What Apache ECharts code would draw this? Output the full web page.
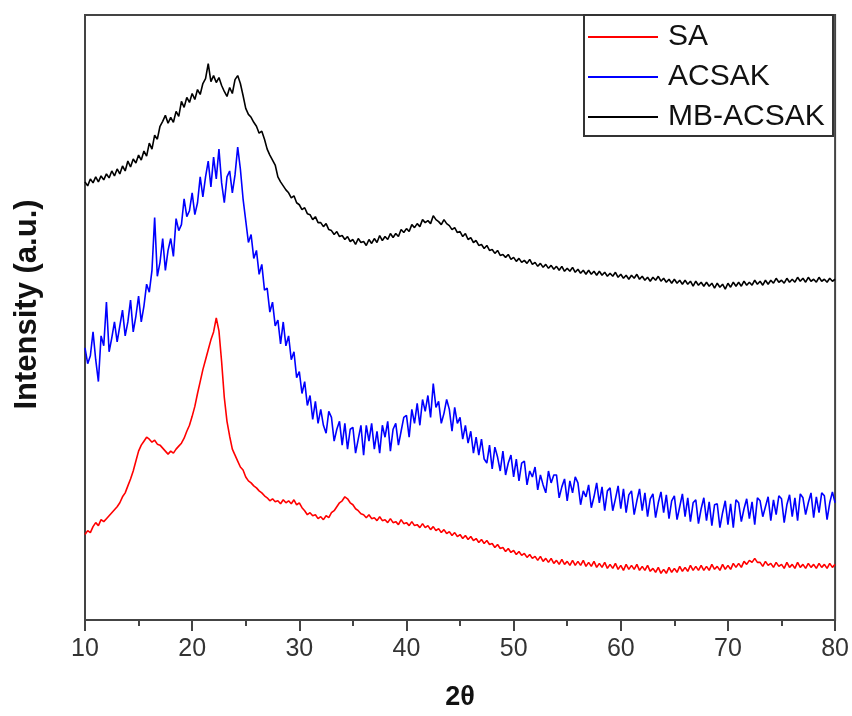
<!DOCTYPE html>
<html>
<head>
<meta charset="utf-8">
<script src="https://cdn.jsdelivr.net/npm/echarts@6/dist/echarts.min.js"></script>
<style>
  html, body { margin: 0; padding: 0; background: #fff; }
  #chart { width: 852px; height: 716px; }
</style>
</head>
<body>
<div id="chart"></div>
<script>
// scan grid: 10..80 deg 2theta, 0.25 deg step
const angleStart = 10;
const angleStep = 0.25;
const xTicks = [10, 20, 30, 40, 50, 60, 70, 80];
const seriesNames = ["SA", "ACSAK", "MB-ACSAK"];

// intensities (arbitrary units, stacked offsets as in the figure)
const saValues = [
  86, 90, 88, 94, 98, 95, 101, 99, 102, 105, 108, 111, 114, 118, 124, 128,
  135, 142, 150, 160, 170, 176, 180, 184, 182, 179, 181, 177, 176, 173, 170, 167,
  170, 168, 172, 175, 178, 183, 190, 196, 205, 215, 228, 240, 252, 262, 272, 282,
  290, 304, 291, 260, 224, 200, 185, 172, 166, 160, 154, 151, 144, 140, 138, 135,
  133, 130, 128, 125, 123, 120, 122, 119, 120, 117, 121, 118, 120, 117, 121, 116,
  118, 113, 110, 106, 108, 105, 106, 102, 104, 101, 105, 103, 108, 110, 114, 118,
  120, 124, 122, 118, 116, 112, 110, 107, 106, 103, 106, 102, 103, 100, 104, 100,
  101, 98, 102, 98, 99, 96, 101, 97, 98, 95, 99, 95, 96, 93, 97, 93,
  95, 91, 94, 90, 92, 88, 91, 87, 89, 85, 88, 84, 86, 82, 85, 81,
  84, 80, 82, 78, 81, 77, 80, 76, 77, 73, 76, 72, 73, 69, 72, 68,
  70, 66, 69, 65, 67, 63, 66, 62, 64, 60, 64, 59, 62, 58, 62, 57,
  60, 56, 61, 56, 59, 55, 60, 55, 59, 55, 60, 54, 58, 54, 59, 53,
  57, 53, 58, 52, 56, 52, 57, 51, 55, 50, 56, 51, 55, 51, 56, 50,
  54, 50, 55, 49, 52, 48, 53, 47, 51, 47, 53, 48, 52, 48, 54, 49,
  53, 49, 55, 50, 54, 50, 55, 50, 54, 50, 56, 51, 54, 50, 56, 51,
  55, 51, 57, 53, 57, 53, 59, 56, 60, 58, 62, 58, 58, 54, 59, 55,
  57, 53, 58, 54, 56, 52, 58, 53, 56, 52, 58, 53, 56, 52, 57, 53,
  56, 52, 57, 53, 56, 52, 57, 53, 56
];

const acsakValues = [
  274, 258, 266, 290, 262, 240, 286, 276, 320, 270, 284, 300, 280, 296, 312, 286,
  300, 322, 290, 306, 326, 300, 316, 338, 330, 352, 405, 346, 360, 384, 352, 372,
  384, 366, 404, 392, 398, 424, 406, 412, 430, 408, 420, 446, 426, 446, 462, 436,
  466, 444, 474, 440, 420, 446, 452, 430, 448, 476, 454, 424, 402, 380, 388, 364,
  372, 348, 358, 332, 334, 310, 320, 296, 302, 278, 300, 276, 286, 262, 270, 244,
  250, 228, 240, 216, 226, 202, 220, 198, 212, 196, 188, 210, 204, 180, 192, 200,
  176, 198, 172, 192, 194, 168, 182, 196, 166, 196, 180, 198, 172, 190, 168, 196,
  184, 200, 170, 192, 198, 176, 190, 204, 206, 184, 212, 198, 218, 196, 222, 210,
  226, 204, 238, 214, 220, 198, 208, 222, 212, 190, 214, 198, 204, 182, 196, 178,
  190, 168, 184, 166, 182, 162, 158, 176, 152, 174, 164, 150, 170, 146, 158, 166,
  144, 162, 140, 158, 160, 136, 150, 144, 154, 131, 146, 136, 128, 150, 138, 146,
  146, 123, 134, 142, 120, 140, 128, 144, 138, 116, 130, 124, 136, 113, 124, 138,
  118, 134, 110, 130, 133, 110, 122, 135, 112, 132, 108, 126, 130, 106, 120, 132,
  110, 128, 104, 122, 127, 103, 118, 129, 108, 126, 102, 120, 125, 101, 114, 127,
  104, 123, 99, 118, 121, 97, 112, 123, 100, 119, 95, 116, 117, 93, 108, 120,
  96, 117, 93, 121, 118, 99, 112, 122, 102, 119, 96, 123, 120, 104, 114, 124,
  100, 121, 106, 125, 122, 98, 116, 126, 104, 123, 100, 127, 123, 106, 118, 128,
  103, 124, 108, 128, 125, 101, 118, 129, 118
];

const mbAcsakValues = [
  441, 437, 444, 440, 446, 441, 447, 443, 449, 445, 452, 447, 454, 449, 457, 452,
  462, 456, 464, 460, 468, 463, 472, 467, 480, 474, 488, 484, 497, 502, 508, 500,
  506, 501, 512, 507, 522, 516, 526, 521, 530, 524, 534, 529, 540, 545, 560, 542,
  548, 541, 546, 538, 532, 527, 536, 530, 544, 548, 540, 528, 515, 509, 506, 501,
  497, 490, 492, 484, 474, 468, 463, 458, 446, 441, 437, 433, 430, 425, 427, 420,
  418, 413, 415, 409, 408, 403, 406, 400, 400, 396, 399, 393, 392, 388, 391, 386,
  387, 383, 386, 381, 383, 378, 384, 380, 381, 377, 383, 379, 384, 380, 387, 382,
  386, 383, 389, 385, 389, 386, 393, 390, 394, 391, 398, 395, 399, 396, 403, 400,
  402, 399, 407, 403, 401, 398, 403, 399, 397, 393, 395, 390, 391, 386, 389, 383,
  385, 380, 382, 377, 378, 374, 377, 372, 373, 369, 372, 367, 368, 365, 368, 363,
  365, 361, 364, 360, 362, 359, 363, 358, 360, 356, 359, 355, 358, 354, 357, 353,
  356, 352, 356, 351, 354, 351, 355, 350, 353, 349, 352, 348, 352, 348, 351, 347,
  351, 347, 350, 346, 349, 346, 350, 345, 348, 344, 347, 343, 347, 344, 348, 343,
  346, 342, 345, 341, 345, 342, 346, 341, 344, 340, 343, 339, 343, 339, 342, 338,
  342, 338, 341, 336, 341, 337, 340, 336, 340, 336, 339, 334, 339, 335, 338, 333,
  339, 335, 340, 336, 340, 336, 341, 337, 340, 337, 342, 338, 341, 337, 342, 338,
  342, 339, 344, 340, 342, 339, 344, 340, 343, 340, 345, 341, 344, 340, 345, 341,
  343, 340, 345, 341, 343, 340, 344, 341, 343
];

function toPairs(values) {
  return values.map((v, i) => [angleStart + i * angleStep, v]);
}

const chart = echarts.init(document.getElementById("chart"));
const fontFamily = "Liberation Sans, Arial, sans-serif";

const option = {
  animation: false,
  backgroundColor: "#fff",
  grid: {
    left: 85, right: 13, top: 15, bottom: 92,
    show: true, borderColor: "#444", borderWidth: 2
  },
  legend: {
    data: seriesNames,
    orient: "vertical",
    left: 588, top: 17,
    padding: 0,
    itemWidth: 70, itemHeight: 14, itemGap: 0,
    icon: "path://M0,6 L70,6 L70,8 L0,8 Z",
    textStyle: { fontFamily, fontSize: 30, color: "#111", lineHeight: 40, padding: [0, 0, 0, 5] }
  },
  graphic: [{
    type: "rect",
    shape: { x: 584, y: 15, width: 249, height: 121 },
    style: { fill: "none", stroke: "#333", lineWidth: 2 },
    z: 10
  }],
  xAxis: {
    type: "value",
    min: 10, max: 80, interval: 10,
    name: "2θ",
    nameLocation: "middle",
    nameGap: 64,
    nameTextStyle: { fontFamily, fontSize: 27, fontWeight: "bold", color: "#111" },
    axisLine: { show: true, onZero: false, lineStyle: { color: "#444", width: 2 } },
    axisTick: { show: true, inside: false, length: 11, lineStyle: { color: "#444", width: 2 } },
    minorTick: { show: true, splitNumber: 2, length: 6, lineStyle: { color: "#444", width: 2 } },
    axisLabel: {
      fontFamily, fontSize: 25, color: "#333", margin: 17,
      formatter: v => (xTicks.includes(v) ? String(v) : "")
    },
    splitLine: { show: false }
  },
  yAxis: {
    type: "value",
    min: 0, max: 609,
    name: "Intensity (a.u.)",
    nameLocation: "middle",
    nameGap: 42,
    nameTextStyle: { fontFamily, fontSize: 31, fontWeight: "bold", color: "#111", padding: [0, 0, 0, 26] },
    axisLine: { show: true, lineStyle: { color: "#444", width: 2 } },
    axisTick: { show: false },
    axisLabel: { show: false },
    splitLine: { show: false }
  },
  series: [
    { name: "SA", data: toPairs(saValues), color: "#ff0000" },
    { name: "ACSAK", data: toPairs(acsakValues), color: "#0000ff" },
    { name: "MB-ACSAK", data: toPairs(mbAcsakValues), color: "#000000" }
  ].map(s => Object.assign({
    type: "line",
    symbol: "none",
    lineStyle: { width: 1.6 },
    emphasis: { disabled: true }
  }, s))
};

chart.setOption(option);
</script>
</body>
</html>
